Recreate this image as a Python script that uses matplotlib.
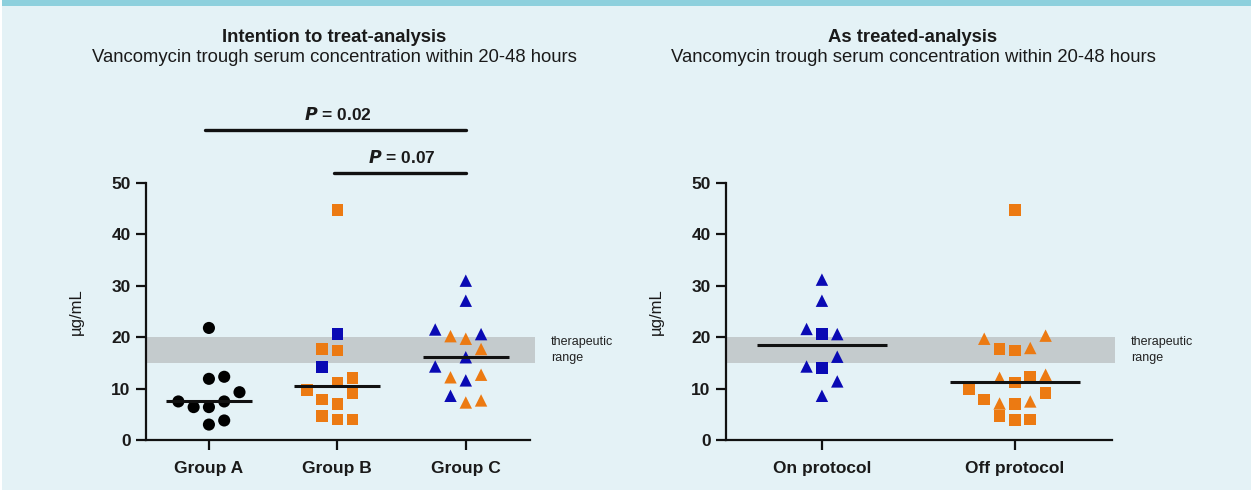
import matplotlib
matplotlib.use("Agg")
import matplotlib.pyplot as plt
from matplotlib.patches import Rectangle

plt.rcParams['font.family'] = ['Liberation Sans', 'DejaVu Sans']

# ---------------- data ----------------
groups_left = ["Group A", "Group B", "Group C"]
groups_right = ["On protocol", "Off protocol"]

# Group A (black circles): (jitter column, value)
a_cols = [0, 0, 1, 2, -2, -1, 0, 1, 0, 1]
a_vals = [21.8, 11.9, 12.3, 9.3, 7.5, 6.4, 6.4, 7.5, 3.0, 3.8]
a_median = 7.5

# Group B (squares); colour: 'o' orange, 'b' blue
b_cols = [0, 0, -1, 0, -1, 0, 1, -2, 1, -1, 0, -1, 0, 1]
b_vals = [44.8, 20.6, 17.7, 17.4, 14.2, 11.2, 12.1, 9.7, 9.2, 7.9, 7.0, 4.7, 4.0, 4.0]
b_cls = ['o', 'b', 'o', 'o', 'b', 'o', 'o', 'o', 'o', 'o', 'o', 'o', 'o', 'o']
b_median = 10.6

# Group C (triangles)
c_cols = [0, 0, -2, -1, 0, 1, 1, 0, -2, -1, 1, 0, -1, 0, 1]
c_vals = [31.0, 27.1, 21.5, 20.2, 19.7, 20.6, 17.7, 16.1, 14.3, 12.2, 12.7, 11.6, 8.6, 7.3, 7.7]
c_cls = ['b', 'b', 'b', 'o', 'o', 'b', 'o', 'b', 'b', 'o', 'o', 'b', 'b', 'o', 'o']
c_median = 16.2

# On protocol (blue): marker 't' triangle, 's' square
on_cols = [0, 0, -1, 0, 1, 1, -1, 0, 1, 0]
on_vals = [31.2, 27.1, 21.6, 20.6, 20.6, 16.2, 14.3, 14.0, 11.4, 8.6]
on_mk = ['t', 't', 't', 's', 't', 't', 't', 's', 't', 't']
on_median = 18.5

# Off protocol (orange)
off_cols = [0, -2, 2, -1, 0, 1, -1, 1, 2, 0, -3, 2, -2, -1, 0, 1, -1, 0, 1]
off_vals = [44.8, 19.7, 20.3, 17.7, 17.4, 17.9, 12.1, 12.2, 12.7, 11.2, 9.8, 9.2, 7.9, 7.1, 7.0, 7.5, 4.7, 3.9, 4.0]
off_mk = ['s', 't', 't', 's', 's', 't', 't', 's', 't', 's', 's', 's', 's', 't', 's', 't', 's', 's', 's']
off_median = 11.3

therapeutic = (15, 20)
yticks = [0, 10, 20, 30, 40, 50]
pvals = [("0.02", 0, 2, 60.4), ("0.07", 1, 2, 52.0)]

# ---------------- style ----------------
BG = "#e4f2f6"
ORANGE = "#ec7a12"
BLUE = "#0a0ab4"
BAND = "#c4cbcd"
STRIPE = "#8dd0dd"
MS = 70

W, H = 1255, 490
fig = plt.figure(figsize=(W / 100, H / 100), dpi=100, facecolor="white")
fig.patches.append(Rectangle((2 / W, 0), (W - 6) / W, 1, transform=fig.transFigure,
                             facecolor=BG, edgecolor="none", zorder=-10))
fig.patches.append(Rectangle((2 / W, 1 - 6 / H), (W - 6) / W, 6 / H, transform=fig.transFigure,
                             facecolor=STRIPE, edgecolor="none", zorder=-9))


def px_axes(x0, x1, ytop, ybot):
    return fig.add_axes([x0 / W, 1 - ybot / H, (x1 - x0) / W, (ybot - ytop) / H])


def style_axes(ax, labels, xlim, band_right):
    ax.set_facecolor("none")
    ax.set_xlim(*xlim)
    ax.set_ylim(0, 50)
    for s in ("top", "right"):
        ax.spines[s].set_visible(False)
    for s in ("left", "bottom"):
        ax.spines[s].set_linewidth(1.6)
        ax.spines[s].set_color("#111111")
    ax.set_yticks(yticks)
    ax.set_yticklabels([str(t) for t in yticks], fontsize=12.5, fontweight="bold")
    ax.set_xticks(range(len(labels)))
    ax.set_xticklabels(labels, fontsize=12.5, fontweight="bold")
    ax.tick_params(axis="both", length=7, width=1.6, color="#111111", labelcolor="#1a1a1a")
    ax.tick_params(axis="y", pad=4)
    ax.tick_params(axis="x", pad=8)
    ax.set_ylabel("µg/mL", fontsize=12, labelpad=20, color="#1a1a1a")
    ax.add_patch(Rectangle((xlim[0], therapeutic[0]), band_right - xlim[0],
                           therapeutic[1] - therapeutic[0], facecolor=BAND,
                           edgecolor="none", zorder=0, clip_on=False))
    ax.annotate("therapeutic\nrange", xy=(band_right, 17.5), xytext=(11.5, 0),
                textcoords="offset points", fontsize=9, va="center", ha="left",
                color="#222222", linespacing=1.45, annotation_clip=False)


def median(ax, x, v, hw):
    ax.plot([x - hw, x + hw], [v, v], color="#111111", lw=2.2, zorder=4,
            solid_capstyle="butt")


# ---------------- left panel ----------------
axL = px_axes(146, 530, 183, 440)
style_axes(axL, groups_left, (-0.49, 2.5), 2.54)
dL = 0.119

axL.scatter([0 + c * dL for c in a_cols], a_vals, s=MS + 6, marker="o", color="black",
            edgecolor="none", zorder=3)
for c, v, k in zip(b_cols, b_vals, b_cls):
    axL.scatter(1 + c * dL, v, s=MS, marker="s", color=ORANGE if k == 'o' else BLUE,
                edgecolor="none", zorder=3)
for c, v, k in zip(c_cols, c_vals, c_cls):
    axL.scatter(2 + c * dL, v, s=MS + 10, marker="^", color=ORANGE if k == 'o' else BLUE,
                edgecolor="none", zorder=3)
median(axL, 0, a_median, 0.335)
median(axL, 1, b_median, 0.335)
median(axL, 2, c_median, 0.335)

for txt, g0, g1, yv in pvals:
    axL.plot([g0 - 0.03, g1 + 0.005], [yv, yv], color="#111111", lw=2.4, clip_on=False,
             solid_capstyle="round")
    axL.text((g0 + g1) / 2, yv + 1.3, r"$\bfit{P}$" + " = " + txt, ha="center", va="bottom",
             fontsize=12.5, fontweight="bold", color="#1a1a1a")

fig.text(334 / W, 1 - 37 / H, "Intention to treat-analysis", ha="center", va="center",
         fontsize=13.3, fontweight="bold", color="#1a1a1a")
fig.text(334 / W, 1 - 58 / H, "Vancomycin trough serum concentration within 20-48 hours",
         ha="center", va="center", fontsize=13.3, color="#1a1a1a")

# ---------------- right panel ----------------
axR = px_axes(726, 1112, 183, 440)
style_axes(axR, groups_right, (-0.497, 1.503), 1.52)
dR = 0.0795
for c, v, m in zip(on_cols, on_vals, on_mk):
    axR.scatter(0 + c * dR, v, s=MS + (10 if m == 't' else 0), marker="^" if m == 't' else "s",
                color=BLUE, edgecolor="none", zorder=3)
for c, v, m in zip(off_cols, off_vals, off_mk):
    axR.scatter(1 + c * dR, v, s=MS + (10 if m == 't' else 0), marker="^" if m == 't' else "s",
                color=ORANGE, edgecolor="none", zorder=3)
median(axR, 0, on_median, 0.337)
median(axR, 1, off_median, 0.337)

fig.text(913 / W, 1 - 37 / H, "As treated-analysis", ha="center", va="center",
         fontsize=13.3, fontweight="bold", color="#1a1a1a")
fig.text(913 / W, 1 - 58 / H, "Vancomycin trough serum concentration within 20-48 hours",
         ha="center", va="center", fontsize=13.3, color="#1a1a1a")

fig.savefig("out.png", dpi=100, facecolor=fig.get_facecolor())
